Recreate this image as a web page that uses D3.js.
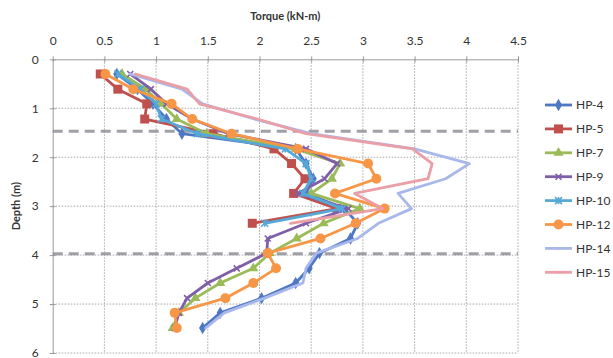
<!DOCTYPE html>
<html>
<head>
<meta charset="utf-8">
<script src="https://cdn.jsdelivr.net/npm/d3@7"></script>
<style>
  html, body { margin: 0; padding: 0; background: #ffffff; }
  svg { display: block; font-family: Lato, "Open Sans", sans-serif; }
</style>
</head>
<body>
<svg id="chart" width="613" height="358"></svg>
<script>
// Test depths (m), one reading every foot
const depths = [0.30, 0.61, 0.91, 1.22, 1.52, 1.83, 2.13, 2.44, 2.74, 3.05, 3.35, 3.66, 3.96, 4.27, 4.57, 4.88, 5.18, 5.49];

// Torque readings (kN-m) per hole, top down
const hp4  = [0.62, 0.82, 0.97, 1.10, 1.25, 2.35, 2.45, 2.52, 2.45, 2.82, 2.95, 2.88, 2.58, 2.48, 2.35, 2.02, 1.62, 1.45];
const hp5  = [0.46, 0.63, 0.91, 0.89, 1.55, 2.14, 2.31, 2.44, 2.33, 2.75, 1.93];
const hp7  = [0.67, 0.90, 1.05, 1.20, 1.49, 2.35, 2.78, 2.70, 2.50, 2.97, 2.62, 2.36, 2.10, 1.94, 1.62, 1.38, 1.22, 1.16];
const hp9  = [0.75, 0.95, 1.10, 1.35, 1.70, 2.45, 2.75, 2.63, 2.37, 2.86, 2.45, 2.08, 2.07, 1.78, 1.50, 1.30, 1.22, 1.18];
const hp10 = [0.63, 0.85, 1.00, 1.05, 1.40, 2.25, 2.45, 2.50, 2.42, 2.80, 2.05];
const hp12 = [0.51, 0.78, 1.15, 1.35, 1.73, 2.37, 3.05, 3.13, 2.73, 3.21, 2.93, 2.59, 2.08, 2.16, 1.94, 1.67, 1.18, 1.20];
const hp14 = [0.75, 1.25, 1.45, 1.95, 2.50, 3.50, 4.03, 3.80, 3.34, 3.47, 3.15, 2.95, 2.55, 2.45, 2.42, 2.05, 1.66, 1.48];
const hp15 = [0.80, 1.30, 1.42, 1.98, 2.45, 3.48, 3.67, 3.63, 2.92, 3.19, 2.30];

// Layer boundaries (m)
const boundaries = [1.47, 3.97];

const xTicks = [0, 0.5, 1, 1.5, 2, 2.5, 3, 3.5, 4, 4.5];
const yTicks = [0, 1, 2, 3, 4, 5, 6];

const series = [
  { name: "HP-4",  values: hp4,  color: "#4f78c4", marker: "diamond" },
  { name: "HP-5",  values: hp5,  color: "#c0504d", marker: "square" },
  { name: "HP-7",  values: hp7,  color: "#9bbb59", marker: "triangle" },
  { name: "HP-9",  values: hp9,  color: "#7f5fa8", marker: "x" },
  { name: "HP-10", values: hp10, color: "#56a8d6", marker: "star" },
  { name: "HP-12", values: hp12, color: "#f79646", marker: "circle" },
  { name: "HP-14", values: hp14, color: "#a8b8ea", marker: "dash" },
  { name: "HP-15", values: hp15, color: "#eb9ea6", marker: "dash" }
];

const svg = d3.select("#chart");
const x = d3.scaleLinear().domain([0, 4.5]).range([52.7, 518]);
const y = d3.scaleLinear().domain([0, 6]).range([59.3, 353]);

// Grid
const grid = svg.append("g").attr("stroke", "#a8a8a8").attr("stroke-width", 1).attr("stroke-dasharray", "1.5,1.5");
grid.selectAll(".gx").data(xTicks.slice(1)).join("line")
  .attr("x1", d => x(d)).attr("x2", d => x(d))
  .attr("y1", y(0)).attr("y2", y(6));
grid.selectAll(".gy").data(yTicks.slice(1)).join("line")
  .attr("x1", x(0)).attr("x2", x(4.5))
  .attr("y1", d => y(d)).attr("y2", d => y(d));

// Top axis
const xAxis = svg.append("g").attr("transform", `translate(0,${y(0)})`)
  .call(d3.axisTop(x).tickValues(xTicks).tickFormat(d => String(d)).tickSizeInner(3).tickSizeOuter(0).tickPadding(11));
xAxis.select(".domain").attr("stroke", "#9a9a9a");
xAxis.selectAll(".tick line").attr("stroke", "#9a9a9a").attr("y2", 3).attr("y1", -3);
xAxis.selectAll("text").attr("font-size", 12).attr("fill", "#333").attr("font-family", "Lato, sans-serif");

// Left axis
const yAxis = svg.append("g").attr("transform", `translate(${x(0)},0)`)
  .call(d3.axisLeft(y).tickValues(yTicks).tickFormat(d3.format("d")).tickSizeInner(3).tickSizeOuter(0).tickPadding(11));
yAxis.select(".domain").attr("stroke", "#9a9a9a");
yAxis.selectAll(".tick line").attr("stroke", "#9a9a9a").attr("x1", -3).attr("x2", 3);
yAxis.selectAll("text").attr("font-size", 12).attr("fill", "#333").attr("font-family", "Lato, sans-serif");

// Axis titles
svg.append("text").attr("x", (x(0) + x(4.5)) / 2).attr("y", 20).attr("text-anchor", "middle")
  .attr("font-size", 11).attr("font-weight", "bold").attr("fill", "#333").text("Torque (kN-m)");
svg.append("text").attr("transform", `translate(20,${(y(0) + y(6)) / 2}) rotate(-90)`)
  .attr("text-anchor", "middle").attr("font-size", 11).attr("font-weight", "bold").attr("fill", "#333").text("Depth (m)");

// Layer boundary lines across the plot
svg.append("g").selectAll("line").data(boundaries).join("line")
  .attr("x1", x(0)).attr("x2", x(4.5))
  .attr("y1", d => y(d)).attr("y2", d => y(d))
  .attr("stroke", "#8f8f99").attr("stroke-opacity", 0.85).attr("stroke-width", 3).attr("stroke-dasharray", "10,6");

// Marker drawing
function drawMarker(g, type, color, size) {
  const s = size;
  if (type === "diamond") {
    g.append("path").attr("d", d3.symbol(d3.symbolDiamond, s * s * 0.9)()).attr("fill", color);
  } else if (type === "square") {
    g.append("rect").attr("x", -s / 2).attr("y", -s / 2).attr("width", s).attr("height", s).attr("fill", color);
  } else if (type === "triangle") {
    g.append("path").attr("d", d3.symbol(d3.symbolTriangle, s * s * 0.7)()).attr("fill", color);
  } else if (type === "circle") {
    g.append("circle").attr("r", s / 2).attr("fill", color);
  } else if (type === "x") {
    const h = s / 2 - 0.5;
    g.append("path").attr("d", `M${-h},${-h}L${h},${h}M${-h},${h}L${h},${-h}`).attr("stroke", color).attr("stroke-width", 1.6);
  } else if (type === "star") {
    const h = s / 2;
    g.append("path").attr("d", `M${-h},${-h}L${h},${h}M${-h},${h}L${h},${-h}M0,${-h}L0,${h}`).attr("stroke", color).attr("stroke-width", 1.6);
  } else if (type === "dash") {
    g.append("path").attr("d", `M${-s / 2},0L${s / 2},0`).attr("stroke", color).attr("stroke-width", 2);
  }
}

const markerSize = { diamond: 7, square: 9, triangle: 8, x: 7, star: 7, circle: 10, dash: 7 };

const line = d3.line().x(d => x(d.t)).y(d => y(d.d));

// Draw series in legend order
series.forEach(s => {
  const pts = s.values.map((t, i) => ({ t, d: depths[i] }));
  const g = svg.append("g");
  g.append("path").datum(pts).attr("d", line)
    .attr("fill", "none").attr("stroke", s.color).attr("stroke-width", 2.8)
    .attr("stroke-linejoin", "round").attr("stroke-linecap", "round");
  if (s.marker !== "dash") {
    pts.forEach(p => {
      const m = g.append("g").attr("transform", `translate(${x(p.t)},${y(p.d)})`);
      drawMarker(m, s.marker, s.color, markerSize[s.marker]);
    });
  }
});

// Legend
const legend = svg.append("g");
series.forEach((s, i) => {
  const ly = 105 + i * 23.9;
  const g = legend.append("g").attr("transform", `translate(545,${ly})`);
  g.append("line").attr("x1", 0).attr("x2", 27).attr("y1", 0).attr("y2", 0)
    .attr("stroke", s.color).attr("stroke-width", 2.8);
  const m = g.append("g").attr("transform", "translate(13.5,0)");
  drawMarker(m, s.marker, s.color, markerSize[s.marker]);
  g.append("text").attr("x", 31).attr("y", 0).attr("dy", "0.35em")
    .attr("font-size", 12).attr("fill", "#333").text(s.name);
});
</script>
</body>
</html>
